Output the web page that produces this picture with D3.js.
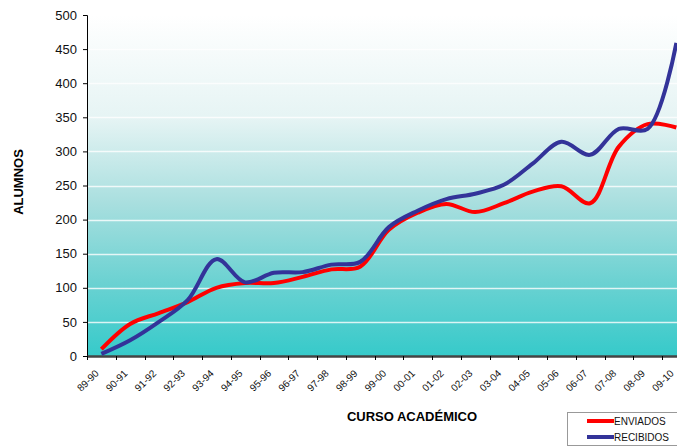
<!DOCTYPE html>
<meta charset="utf-8">
<head>
    <title>Alumnos</title>
    <script src="https://cdn.jsdelivr.net/npm/d3@7/dist/d3.min.js"></script>
</head>
<style>
    body { margin: 0; background: #fff; }
    svg { font-family: "Liberation Sans", Arial, sans-serif; display: block; }
    .grid line { stroke: #fff; stroke-width: 1.5px; opacity: 0.8; }
</style>
<svg></svg>
<script>
    var vWidth = 677;
    var vHeight = 446;

    var vCursos = ["89-90", "90-91", "91-92", "92-93", "93-94", "94-95", "95-96", "96-97", "97-98", "98-99",
        "99-00", "00-01", "01-02", "02-03", "03-04", "04-05", "05-06", "06-07", "07-08", "08-09", "09-10"];
    var vEnviados = [10, 47, 63, 79, 100, 107, 107, 116, 127, 131, 185, 210, 223, 211, 224, 241, 249, 224, 307, 340, 335];
    var vRecibidos = [3, 23, 50, 82, 142, 108, 122, 123, 134, 138, 189, 213, 230, 238, 251, 282, 314, 295, 333, 333, 459];
    var vYTicks = [0, 50, 100, 150, 200, 250, 300, 350, 400, 450, 500];

    var svg = d3.select('svg').attr('width', vWidth).attr('height', vHeight);

    // plot area (runs past the right edge of the picture)
    var pLeft = 87, pTop = 15, pBottom = 356, bandW = 28.75;
    var pRight = pLeft + bandW * vCursos.length;

    var x = d3.scaleBand().domain(vCursos).range([pLeft, pRight]);
    var y = d3.scaleLinear().domain([0, 500]).range([pBottom, pTop]);

    var defs = svg.append('defs');
    var grad = defs.append('linearGradient').attr('id', 'bg')
        .attr('x1', 0).attr('y1', 0).attr('x2', 0).attr('y2', 1);
    grad.append('stop').attr('offset', '0%').attr('stop-color', '#ffffff');
    grad.append('stop').attr('offset', '30%').attr('stop-color', '#e6f4f4');
    grad.append('stop').attr('offset', '55%').attr('stop-color', '#a9dfdf');
    grad.append('stop').attr('offset', '78%').attr('stop-color', '#6cd2d2');
    grad.append('stop').attr('offset', '100%').attr('stop-color', '#36caca');

    svg.append('rect').attr('x', pLeft).attr('y', pTop)
        .attr('width', pRight - pLeft).attr('height', pBottom - pTop)
        .attr('fill', 'url(#bg)');

    // gridlines
    svg.append('g').attr('class', 'grid').selectAll('line')
        .data(vYTicks.filter(function (d) { return d > 0 && d < 500; }))
        .enter().append('line')
        .attr('x1', pLeft).attr('x2', pRight)
        .attr('y1', function (d) { return Math.round(y(d)) + 0.5; })
        .attr('y2', function (d) { return Math.round(y(d)) + 0.5; });

    // y axis
    var yAxis = svg.append('g').attr('transform', 'translate(' + pLeft + ',0)')
        .call(d3.axisLeft(y).tickValues(vYTicks).tickSize(4).tickPadding(6));
    yAxis.select('.domain').attr('stroke', '#000');
    yAxis.selectAll('.tick line').attr('stroke', '#000');
    yAxis.selectAll('text').attr('font-size', 13).attr('fill', '#111');

    // x axis
    var xAxis = svg.append('g').attr('transform', 'translate(0,' + pBottom + ')')
        .call(d3.axisBottom(x).tickSize(0).tickFormat(''));
    xAxis.select('.domain').attr('stroke', '#444').attr('stroke-width', 2.5);
    svg.append('g').selectAll('line')
        .data(vCursos).enter().append('line')
        .attr('x1', function (d) { return Math.round(x(d)) + 0.5; })
        .attr('x2', function (d) { return Math.round(x(d)) + 0.5; })
        .attr('y1', pBottom).attr('y2', pBottom + 4)
        .attr('stroke', '#000');

    svg.append('g').selectAll('text')
        .data(vCursos).enter().append('text')
        .attr('transform', function (d) {
            return 'translate(' + (x(d) + x.bandwidth() / 2 - 2) + ',' + (pBottom + 18) + ') rotate(-45)';
        })
        .attr('text-anchor', 'end')
        .attr('font-size', 10)
        .attr('fill', '#111')
        .text(function (d) { return d; });

    // lines
    var clip = defs.append('clipPath').attr('id', 'clip');
    clip.append('rect').attr('x', 0).attr('y', 0).attr('width', vWidth).attr('height', vHeight);

    var line = d3.line()
        .x(function (d, i) { return x(vCursos[i]) + x.bandwidth() / 2; })
        .y(function (d) { return y(d); })
        .curve(d3.curveCatmullRom.alpha(0.5));

    var vSeries = [
        { name: 'ENVIADOS', values: vEnviados, color: '#ff0000' },
        { name: 'RECIBIDOS', values: vRecibidos, color: '#333399' }
    ];

    svg.append('g').attr('clip-path', 'url(#clip)').selectAll('path')
        .data(vSeries).enter().append('path')
        .attr('d', function (d) { return line(d.values); })
        .attr('fill', 'none')
        .attr('stroke', function (d) { return d.color; })
        .attr('stroke-width', 4)
        .attr('stroke-linejoin', 'round');

    // axis titles
    svg.append('text')
        .attr('transform', 'translate(23,182) rotate(-90)')
        .attr('text-anchor', 'middle')
        .attr('font-size', 13).attr('font-weight', 'bold')
        .text('ALUMNOS');

    svg.append('text')
        .attr('x', 412).attr('y', 421)
        .attr('text-anchor', 'middle')
        .attr('font-size', 13).attr('font-weight', 'bold')
        .text('CURSO ACADÉMICO');

    // legend
    var lg = svg.append('g');
    lg.append('rect').attr('x', 567.5).attr('y', 412.5).attr('width', 112).attr('height', 33)
        .attr('fill', '#fff').attr('stroke', '#999');
    var li = lg.selectAll('g.item').data(vSeries).enter().append('g')
        .attr('transform', function (d, i) { return 'translate(0,' + (421 + i * 16) + ')'; });
    li.append('line').attr('x1', 587).attr('x2', 614).attr('y1', 0).attr('y2', 0)
        .attr('stroke', function (d) { return d.color; }).attr('stroke-width', 4);
    li.append('text').attr('x', 614).attr('y', 4)
        .attr('font-size', 10).attr('fill', '#111')
        .text(function (d) { return d.name; });
</script>
